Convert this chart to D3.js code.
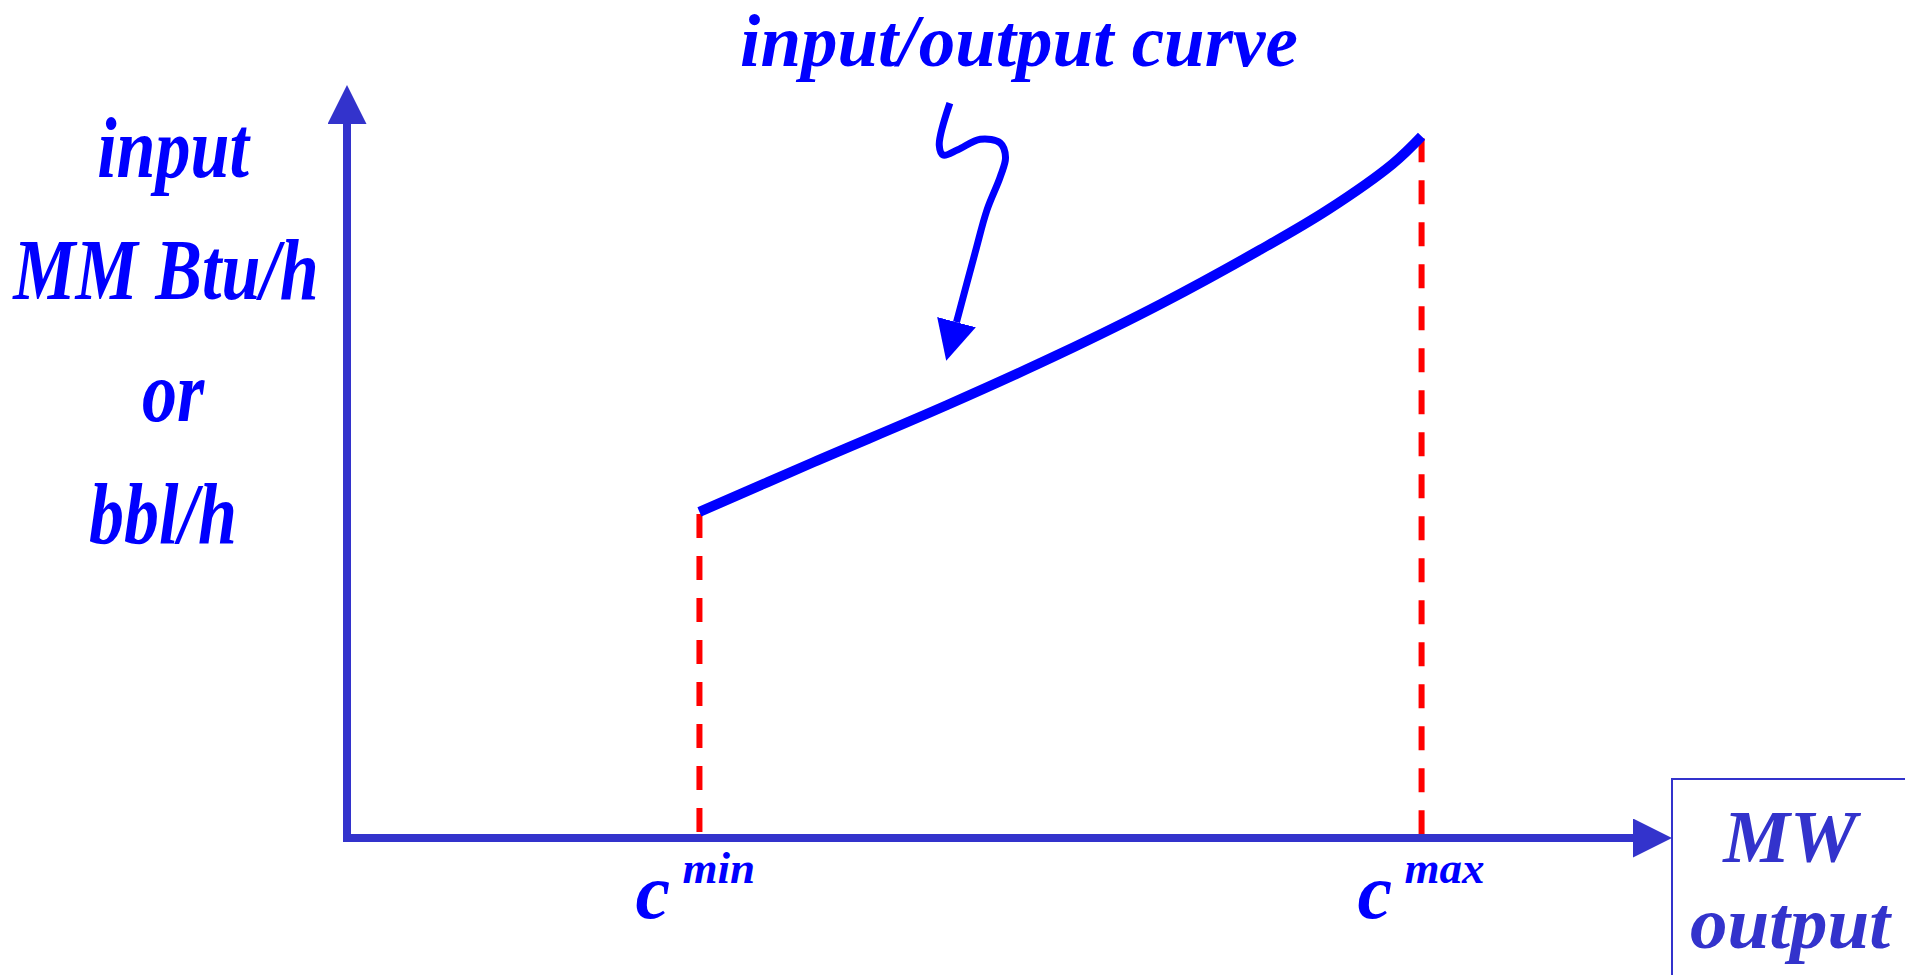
<!DOCTYPE html>
<html>
<head>
<meta charset="utf-8">
<script src="https://cdn.jsdelivr.net/npm/d3@7"></script>
<style>
  html, body { margin: 0; padding: 0; background: #fff; overflow: hidden; }
  text { font-family: "Liberation Serif", "Times New Roman", serif; font-weight: bold; font-style: italic; }
</style>
</head>
<body>
<svg id="drawing_region"></svg>
<script>
// input/output curve, MW output (x) vs fuel input (y), both in % of axis length
const curveMW    = [26.6, 35.2, 45.3, 53.8, 61.4, 68.9, 74.0, 78.9, 81.1];
const curveInput = [43.3, 49.9, 57.5, 64.3, 70.9, 78.1, 83.4, 89.5, 93.2];

// callout arrow pointing at the curve
const noteX = [45.5, 44.7, 45.0, 46.1, 47.8, 49.3, 49.7, 49.3, 48.3, 47.4, 46.0];
const noteY = [97.6, 92.0, 90.7, 91.4, 92.8, 92.3, 90.4, 87.8, 83.4, 77.7, 68.5];

const yLabels = ["input", "MM Btu/h", "or", "bbl/h"];
const xLabel = ["MW", "output"];
const limits = [{name: "c", sup: "min"}, {name: "c", sup: "max"}];
const title = "input/output curve";

const config = {
    width: 1905,
    height: 975,
    origin: {x: 347, y: 838},
    xEnd: 1672,
    yEnd: 85
};

const axisColor = '#3333cc';
const textColor = '#0000ff';

const svg = d3.select('#drawing_region')
    .attr('width', config.width)
    .attr('height', config.height);

const xscale = d3.scaleLinear()
    .domain([0, 100])
    .range([config.origin.x, config.xEnd]);

const yscale = d3.scaleLinear()
    .domain([0, 100])
    .range([config.origin.y, config.yEnd]);

// arrow heads
const defs = svg.append('defs');
function arrowMarker(id, color, len, wid) {
    defs.append('marker')
        .attr('id', id)
        .attr('markerUnits', 'userSpaceOnUse')
        .attr('viewBox', `0 ${-wid/2} ${len} ${wid}`)
        .attr('refX', 0)
        .attr('refY', 0)
        .attr('markerWidth', len)
        .attr('markerHeight', wid)
        .attr('orient', 'auto')
      .append('path')
        .attr('d', `M0,${-wid/2} L${len},0 L0,${wid/2} Z`)
        .attr('fill', color);
}
arrowMarker('axisHead', axisColor, 39, 39);
arrowMarker('noteHead', textColor, 40, 40);

// dashed limits
const ends = [0, curveMW.length - 1];
svg.selectAll('line.limit')
    .data(ends)
    .join('line')
    .attr('class', 'limit')
    .attr('x1', i => xscale(curveMW[i]))
    .attr('x2', i => xscale(curveMW[i]))
    .attr('y1', i => yscale(curveInput[i]) + 2)
    .attr('y2', config.origin.y - 4)
    .attr('stroke', '#ff0000')
    .attr('stroke-width', 6)
    .attr('stroke-dasharray', '24,18');

// axes
svg.append('line')
    .attr('x1', xscale(0)).attr('y1', yscale(0) + 4)
    .attr('x2', xscale(0)).attr('y2', config.yEnd + 39)
    .attr('stroke', axisColor)
    .attr('stroke-width', 8)
    .attr('marker-end', 'url(#axisHead)');

svg.append('line')
    .attr('x1', xscale(0) - 4).attr('y1', yscale(0))
    .attr('x2', config.xEnd - 39).attr('y2', yscale(0))
    .attr('stroke', axisColor)
    .attr('stroke-width', 8)
    .attr('marker-end', 'url(#axisHead)');

// the curve
const line = d3.line()
    .x(i => xscale(curveMW[i]))
    .y(i => yscale(curveInput[i]))
    .curve(d3.curveCatmullRom);

svg.append('path')
    .datum(d3.range(curveMW.length))
    .attr('d', line)
    .attr('fill', 'none')
    .attr('stroke', textColor)
    .attr('stroke-width', 10);

// callout
const noteLine = d3.line()
    .x(i => xscale(noteX[i]))
    .y(i => yscale(noteY[i]))
    .curve(d3.curveCatmullRom);

svg.append('path')
    .datum(d3.range(noteX.length))
    .attr('d', noteLine)
    .attr('fill', 'none')
    .attr('stroke', textColor)
    .attr('stroke-width', 7)
    .attr('marker-end', 'url(#noteHead)');

svg.append('text')
    .attr('x', 1019)
    .attr('y', 66)
    .attr('text-anchor', 'middle')
    .attr('font-size', 73)
    .attr('fill', textColor)
    .text(title);

// y label (slightly stretched vertically like the slide)
const yCenters = [173, 166, 173, 163];
svg.selectAll('text.ylab')
    .data(yLabels)
    .join('text')
    .attr('class', 'ylab')
    .attr('transform', (d, i) => `translate(${yCenters[i]}, ${177 + i * 122}) scale(1, 1.25)`)
    .attr('text-anchor', 'middle')
    .attr('font-size', 70)
    .attr('fill', textColor)
    .text(d => d);

// x label box
svg.append('rect')
    .attr('x', config.xEnd)
    .attr('y', 779)
    .attr('width', 400)
    .attr('height', 400)
    .attr('fill', 'none')
    .attr('stroke', axisColor)
    .attr('stroke-width', 2);

svg.selectAll('text.xlab')
    .data(xLabel)
    .join('text')
    .attr('class', 'xlab')
    .attr('x', 1790)
    .attr('y', (d, i) => 862 + i * 86)
    .attr('text-anchor', 'middle')
    .attr('font-size', 75)
    .attr('fill', axisColor)
    .text(d => d);

// c min / c max
const lim = svg.selectAll('g.lim')
    .data(limits)
    .join('g')
    .attr('class', 'lim')
    .attr('transform', (d, i) => `translate(${xscale(curveMW[ends[i]]) - 64}, 918)`);

lim.append('text')
    .attr('font-size', 78)
    .attr('fill', textColor)
    .text(d => d.name);

lim.append('text')
    .attr('x', 47)
    .attr('y', -35)
    .attr('font-size', 45)
    .attr('fill', textColor)
    .text(d => d.sup);
</script>
</body>
</html>
